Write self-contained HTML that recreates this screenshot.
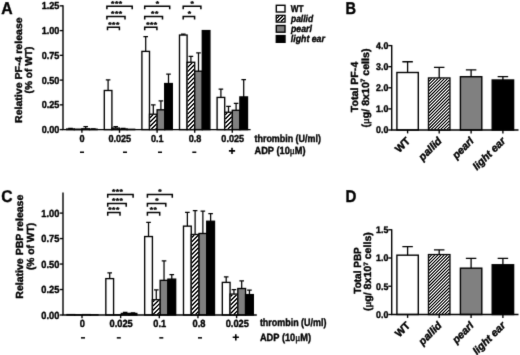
<!DOCTYPE html>
<html><head><meta charset="utf-8"><title>Figure</title>
<style>
html,body{margin:0;padding:0;background:#fff;}
body{width:520px;height:355px;overflow:hidden;}
svg{display:block;font-family:"Liberation Sans",sans-serif;fill:#000;text-rendering:geometricPrecision;}
svg text{stroke:#000;stroke-width:0.4px;stroke-linejoin:round;}
</style></head><body>
<svg width="520" height="355" viewBox="0 0 520 355">
<defs>
<pattern id="hatch" width="3" height="3" patternUnits="userSpaceOnUse" patternTransform="rotate(-45)">
<rect width="3" height="3" fill="#fff"/><rect width="3" height="1.4" fill="#000"/>
</pattern>
<pattern id="hatch2" width="1.68" height="1.68" patternUnits="userSpaceOnUse" patternTransform="rotate(-45)">
<rect width="1.68" height="1.68" fill="#fff"/><rect width="1.68" height="0.95" fill="#000"/>
</pattern>
<filter id="soft2" x="0" y="0" width="520" height="355" filterUnits="userSpaceOnUse" color-interpolation-filters="sRGB"><feConvolveMatrix order="3" kernelMatrix="0.0016 0.0371 0.0016 0.0371 0.8450 0.0371 0.0016 0.0371 0.0016" edgeMode="duplicate" preserveAlpha="false"/></filter>
<filter id="soft" x="0" y="0" width="520" height="355" filterUnits="userSpaceOnUse" color-interpolation-filters="sRGB"><feConvolveMatrix order="3" kernelMatrix="0.0113 0.0838 0.0113 0.0838 0.6193 0.0838 0.0113 0.0838 0.0113" edgeMode="duplicate" preserveAlpha="true"/></filter>
</defs>
<rect width="520" height="355" fill="#fff"/>
<g filter="url(#soft)">
<rect width="520" height="355" fill="#fff"/>

<text transform="translate(1.3 13.5) scale(0.928 1)" font-size="17" font-weight="bold">A</text>
<text transform="translate(345.4 13.5) scale(0.855 1)" font-size="17" font-weight="bold">B</text>
<text transform="translate(1.2 202.3) scale(0.920 1)" font-size="17" font-weight="bold">C</text>
<text transform="translate(345.4 201.9) scale(0.887 1)" font-size="17" font-weight="bold">D</text>
<path d="M70.5 129.01V128.41M68.2 128.41H72.8" stroke="#000" stroke-width="1.25" fill="none"/>
<rect x="66.7" y="129.01" width="7.6" height="0.59" fill="#fff" stroke="#000" stroke-width="1.35"/>
<rect x="74.3" y="129.2" width="7.6" height="0.4" fill="#fff" stroke="#000" stroke-width="1.35"/>
<path d="M85.7 128.81V126.63M83.4 126.63H88" stroke="#000" stroke-width="1.25" fill="none"/>
<rect x="81.9" y="128.81" width="7.6" height="0.79" fill="#808080" stroke="#000" stroke-width="1.35"/>
<path d="M93.3 129.2V128.81M91 128.81H95.6" stroke="#000" stroke-width="1.25" fill="none"/>
<rect x="89.5" y="129.2" width="7.6" height="0.4" fill="#000" stroke="#000" stroke-width="1.35"/>
<path d="M108.1 90.49V79.8M105.8 79.8H110.4" stroke="#000" stroke-width="1.25" fill="none"/>
<rect x="104.3" y="90.49" width="7.6" height="39.11" fill="#fff" stroke="#000" stroke-width="1.35"/>
<path d="M115.7 128.11V126.63M113.4 126.63H118" stroke="#000" stroke-width="1.25" fill="none"/>
<rect x="111.9" y="128.11" width="7.6" height="1.49" fill="#fff" stroke="#000" stroke-width="1.35"/>
<path d="M123.3 129.01V128.41M121 128.41H125.6" stroke="#000" stroke-width="1.25" fill="none"/>
<rect x="119.5" y="129.01" width="7.6" height="0.59" fill="#808080" stroke="#000" stroke-width="1.35"/>
<rect x="127.1" y="129.3" width="7.6" height="0.3" fill="#000" stroke="#000" stroke-width="1.35"/>
<path d="M145.7 51.39V36.54M143.4 36.54H148" stroke="#000" stroke-width="1.25" fill="none"/>
<rect x="141.9" y="51.39" width="7.6" height="78.21" fill="#fff" stroke="#000" stroke-width="1.35"/>
<path d="M153.3 114.25V104.85M151 104.85H155.6" stroke="#000" stroke-width="1.25" fill="none"/>
<rect x="149.5" y="114.25" width="7.6" height="15.34" fill="#fff" stroke="#000" stroke-width="1.35"/>
<path d="M160.9 109.8V100.89M158.6 100.89H163.2" stroke="#000" stroke-width="1.25" fill="none"/>
<rect x="157.1" y="109.8" width="7.6" height="19.8" fill="#808080" stroke="#000" stroke-width="1.35"/>
<path d="M168.5 83.56V74.16M166.2 74.16H170.8" stroke="#000" stroke-width="1.25" fill="none"/>
<rect x="164.7" y="83.56" width="7.6" height="46.03" fill="#000" stroke="#000" stroke-width="1.35"/>
<path d="M183.3 35.05V34.06M181 34.06H185.6" stroke="#000" stroke-width="1.25" fill="none"/>
<rect x="179.5" y="35.05" width="7.6" height="94.55" fill="#fff" stroke="#000" stroke-width="1.35"/>
<path d="M190.9 62.28V56.34M188.6 56.34H193.2" stroke="#000" stroke-width="1.25" fill="none"/>
<rect x="187.1" y="62.28" width="7.6" height="67.32" fill="#fff" stroke="#000" stroke-width="1.35"/>
<path d="M198.5 71.19V52.87M196.2 52.87H200.8" stroke="#000" stroke-width="1.25" fill="none"/>
<rect x="194.7" y="71.19" width="7.6" height="58.41" fill="#808080" stroke="#000" stroke-width="1.35"/>
<rect x="202.3" y="30.6" width="7.6" height="99" fill="#000" stroke="#000" stroke-width="1.35"/>
<path d="M220.9 97.42V89.01M218.6 89.01H223.2" stroke="#000" stroke-width="1.25" fill="none"/>
<rect x="217.1" y="97.42" width="7.6" height="32.18" fill="#fff" stroke="#000" stroke-width="1.35"/>
<path d="M228.5 112.27V106.33M226.2 106.33H230.8" stroke="#000" stroke-width="1.25" fill="none"/>
<rect x="224.7" y="112.27" width="7.6" height="17.33" fill="#fff" stroke="#000" stroke-width="1.35"/>
<path d="M236.1 110.29V103.36M233.8 103.36H238.4" stroke="#000" stroke-width="1.25" fill="none"/>
<rect x="232.3" y="110.29" width="7.6" height="19.31" fill="#808080" stroke="#000" stroke-width="1.35"/>
<path d="M243.7 96.93V79.6M241.4 79.6H246" stroke="#000" stroke-width="1.25" fill="none"/>
<rect x="239.9" y="96.93" width="7.6" height="32.67" fill="#000" stroke="#000" stroke-width="1.35"/>
<path d="M63 5.3V129.6H250.6" stroke="#000" stroke-width="1.4" fill="none"/>
<path d="M59.7 129.6H63" stroke="#000" stroke-width="1.35"/>
<text transform="translate(59.4 133.19) scale(0.900 1)" font-size="10.1" text-anchor="end" font-weight="bold">0.00</text>
<path d="M59.7 104.85H63" stroke="#000" stroke-width="1.35"/>
<text transform="translate(59.4 108.44) scale(0.900 1)" font-size="10.1" text-anchor="end" font-weight="bold">0.25</text>
<path d="M59.7 80.1H63" stroke="#000" stroke-width="1.35"/>
<text transform="translate(59.4 83.69) scale(0.900 1)" font-size="10.1" text-anchor="end" font-weight="bold">0.50</text>
<path d="M59.7 55.35H63" stroke="#000" stroke-width="1.35"/>
<text transform="translate(59.4 58.94) scale(0.900 1)" font-size="10.1" text-anchor="end" font-weight="bold">0.75</text>
<path d="M59.7 30.6H63" stroke="#000" stroke-width="1.35"/>
<text transform="translate(59.4 34.19) scale(0.900 1)" font-size="10.1" text-anchor="end" font-weight="bold">1.00</text>
<path d="M59.7 5.85H63" stroke="#000" stroke-width="1.35"/>
<text transform="translate(59.4 9.44) scale(0.900 1)" font-size="10.1" text-anchor="end" font-weight="bold">1.25</text>
<path d="M81.9 129.6V132.8" stroke="#000" stroke-width="1.35"/>
<text transform="translate(82.1 141.8) scale(0.900 1)" font-size="10.1" text-anchor="middle" font-weight="bold">0</text>
<rect x="80" y="151.5" width="4" height="1.5" fill="#000"/>
<path d="M119.5 129.6V132.8" stroke="#000" stroke-width="1.35"/>
<text transform="translate(119.8 141.8) scale(0.900 1)" font-size="10.1" text-anchor="middle" font-weight="bold">0.025</text>
<rect x="123" y="151.5" width="4" height="1.5" fill="#000"/>
<path d="M157.1 129.6V132.8" stroke="#000" stroke-width="1.35"/>
<text transform="translate(157.2 141.8) scale(0.900 1)" font-size="10.1" text-anchor="middle" font-weight="bold">0.1</text>
<rect x="158" y="151.5" width="4" height="1.5" fill="#000"/>
<path d="M194.7 129.6V132.8" stroke="#000" stroke-width="1.35"/>
<text transform="translate(195 141.8) scale(0.900 1)" font-size="10.1" text-anchor="middle" font-weight="bold">0.8</text>
<rect x="192.3" y="151.5" width="4" height="1.5" fill="#000"/>
<path d="M232.3 129.6V132.8" stroke="#000" stroke-width="1.35"/>
<text transform="translate(232.7 141.8) scale(0.900 1)" font-size="10.1" text-anchor="middle" font-weight="bold">0.025</text>
<path d="M228.9 150.9H235.1M232 147.8V154" stroke="#000" stroke-width="1.6" fill="none"/>
<text transform="translate(254.5 141.6) scale(0.858 1)" font-size="10.4" font-weight="bold">thrombin (U/ml)</text>
<text transform="translate(254.5 154.2) scale(0.890 1)" font-size="10.4" font-weight="bold">ADP (10<tspan font-family="Liberation Serif" font-weight="normal" font-size="10.5">μ</tspan>M)</text>
<text transform="translate(21.6 123) rotate(-90) scale(1.056 1)" font-size="10" font-weight="bold">Relative PF-4 release</text>
<text transform="translate(31.9 93.4) rotate(-90) scale(1.017 1)" font-size="10" font-weight="bold">(% of WT)</text>
<path d="M106.9 9.3V6.3H132.2V9.3" stroke="#000" stroke-width="1.5" fill="none"/>
<text transform="translate(116.8 6) scale(1.000 0.8)" font-size="8.6" text-anchor="middle" font-weight="bold"><tspan letter-spacing="0.45">***</tspan></text>
<path d="M106.9 19.6V16.6H125V19.6" stroke="#000" stroke-width="1.5" fill="none"/>
<text transform="translate(116.8 16.3) scale(1.000 0.8)" font-size="8.6" text-anchor="middle" font-weight="bold"><tspan letter-spacing="0.45">***</tspan></text>
<path d="M107.5 30.2V27.2H119.4V30.2" stroke="#000" stroke-width="1.5" fill="none"/>
<text transform="translate(114 26.9) scale(1.000 0.8)" font-size="8.6" text-anchor="middle" font-weight="bold"><tspan letter-spacing="0.45">***</tspan></text>
<path d="M144.7 9.3V6.3H169.7V9.3" stroke="#000" stroke-width="1.5" fill="none"/>
<text transform="translate(157.7 6) scale(1.000 0.8)" font-size="8.6" text-anchor="middle" font-weight="bold"><tspan letter-spacing="0.45">*</tspan></text>
<path d="M144.7 19.6V16.6H162.5V19.6" stroke="#000" stroke-width="1.5" fill="none"/>
<text transform="translate(154.9 16.3) scale(1.000 0.8)" font-size="8.6" text-anchor="middle" font-weight="bold"><tspan letter-spacing="0.45">**</tspan></text>
<path d="M144.7 30.2V27.2H156.9V30.2" stroke="#000" stroke-width="1.5" fill="none"/>
<text transform="translate(151.9 26.9) scale(1.000 0.8)" font-size="8.6" text-anchor="middle" font-weight="bold"><tspan letter-spacing="0.45">***</tspan></text>
<path d="M183.2 9.3V6.3H200.9V9.3" stroke="#000" stroke-width="1.5" fill="none"/>
<text transform="translate(192.3 6) scale(1.000 0.8)" font-size="8.6" text-anchor="middle" font-weight="bold"><tspan letter-spacing="0.45">*</tspan></text>
<path d="M183.2 19.6V16.6H194.6V19.6" stroke="#000" stroke-width="1.5" fill="none"/>
<text transform="translate(189.6 16.3) scale(1.000 0.8)" font-size="8.6" text-anchor="middle" font-weight="bold"><tspan letter-spacing="0.45">*</tspan></text>
<rect x="276.3" y="5.3" width="8.7" height="6.7" fill="#fff" stroke="#000" stroke-width="1.4"/>
<text transform="translate(290.8 12) scale(0.831 1)" font-size="9.9" font-weight="bold">WT</text>
<rect x="276.3" y="15.4" width="8.7" height="6.7" fill="#fff" stroke="#000" stroke-width="1.4"/>
<text transform="translate(290.99 22.1) scale(0.857 1)" font-size="9.9" font-weight="bold" font-style="italic">pallid</text>
<rect x="276.3" y="25.5" width="8.7" height="6.7" fill="#808080" stroke="#000" stroke-width="1.4"/>
<text transform="translate(291 32.2) scale(0.885 1)" font-size="9.9" font-weight="bold" font-style="italic">pearl</text>
<rect x="276.3" y="35.6" width="8.7" height="6.7" fill="#000" stroke="#000" stroke-width="1.4"/>
<text transform="translate(290.8 42.3) scale(0.888 1)" font-size="9.9" font-weight="bold" font-style="italic">light ear</text>
<rect x="67" y="314.59" width="7.75" height="0.41" fill="#fff" stroke="#000" stroke-width="1.35"/>
<rect x="74.75" y="314.8" width="7.75" height="0.2" fill="#fff" stroke="#000" stroke-width="1.35"/>
<rect x="82.5" y="314.59" width="7.75" height="0.41" fill="#808080" stroke="#000" stroke-width="1.35"/>
<rect x="90.25" y="314.8" width="7.75" height="0.2" fill="#000" stroke="#000" stroke-width="1.35"/>
<path d="M109.7 278.62V272.81M107.41 272.81H112" stroke="#000" stroke-width="1.25" fill="none"/>
<rect x="105.83" y="278.62" width="7.75" height="36.38" fill="#fff" stroke="#000" stroke-width="1.35"/>
<rect x="113.58" y="314.8" width="7.75" height="0.2" fill="#fff" stroke="#000" stroke-width="1.35"/>
<path d="M125.2 313.47V312.45M122.91 312.45H127.5" stroke="#000" stroke-width="1.25" fill="none"/>
<rect x="121.33" y="313.47" width="7.75" height="1.53" fill="#808080" stroke="#000" stroke-width="1.35"/>
<path d="M132.95 313.47V312.76M130.65 312.76H135.25" stroke="#000" stroke-width="1.25" fill="none"/>
<rect x="129.08" y="313.47" width="7.75" height="1.53" fill="#000" stroke="#000" stroke-width="1.35"/>
<path d="M148.53 236.54V222.27M146.23 222.27H150.84" stroke="#000" stroke-width="1.25" fill="none"/>
<rect x="144.66" y="236.54" width="7.75" height="78.46" fill="#fff" stroke="#000" stroke-width="1.35"/>
<path d="M156.28 299.71V289.93M153.98 289.93H158.59" stroke="#000" stroke-width="1.25" fill="none"/>
<rect x="152.41" y="299.71" width="7.75" height="15.29" fill="#fff" stroke="#000" stroke-width="1.35"/>
<path d="M164.03 280.35V260.99M161.73 260.99H166.34" stroke="#000" stroke-width="1.25" fill="none"/>
<rect x="160.16" y="280.35" width="7.75" height="34.65" fill="#808080" stroke="#000" stroke-width="1.35"/>
<path d="M171.78 279.13V274.55M169.48 274.55H174.09" stroke="#000" stroke-width="1.25" fill="none"/>
<rect x="167.91" y="279.13" width="7.75" height="35.87" fill="#000" stroke="#000" stroke-width="1.35"/>
<path d="M187.37 226.14V212.39M185.06 212.39H189.67" stroke="#000" stroke-width="1.25" fill="none"/>
<rect x="183.49" y="226.14" width="7.75" height="88.86" fill="#fff" stroke="#000" stroke-width="1.35"/>
<path d="M195.12 234.5V210.55M192.81 210.55H197.42" stroke="#000" stroke-width="1.25" fill="none"/>
<rect x="191.24" y="234.5" width="7.75" height="80.5" fill="#fff" stroke="#000" stroke-width="1.35"/>
<path d="M202.87 233.48V211.06M200.56 211.06H205.17" stroke="#000" stroke-width="1.25" fill="none"/>
<rect x="198.99" y="233.48" width="7.75" height="81.52" fill="#808080" stroke="#000" stroke-width="1.35"/>
<path d="M210.62 221.25V213.61M208.31 213.61H212.92" stroke="#000" stroke-width="1.25" fill="none"/>
<rect x="206.74" y="221.25" width="7.75" height="93.75" fill="#000" stroke="#000" stroke-width="1.35"/>
<path d="M226.19 282.39V276.79M223.89 276.79H228.5" stroke="#000" stroke-width="1.25" fill="none"/>
<rect x="222.32" y="282.39" width="7.75" height="32.61" fill="#fff" stroke="#000" stroke-width="1.35"/>
<path d="M233.94 294.11V289.52M231.64 289.52H236.25" stroke="#000" stroke-width="1.25" fill="none"/>
<rect x="230.07" y="294.11" width="7.75" height="20.89" fill="#fff" stroke="#000" stroke-width="1.35"/>
<path d="M241.69 288.51V280.86M239.39 280.86H244" stroke="#000" stroke-width="1.25" fill="none"/>
<rect x="237.82" y="288.51" width="7.75" height="26.49" fill="#808080" stroke="#000" stroke-width="1.35"/>
<path d="M249.44 294.62V290.03M247.14 290.03H251.75" stroke="#000" stroke-width="1.25" fill="none"/>
<rect x="245.57" y="294.62" width="7.75" height="20.38" fill="#000" stroke="#000" stroke-width="1.35"/>
<path d="M63 192.5V315H256.8" stroke="#000" stroke-width="1.4" fill="none"/>
<path d="M59.7 315H63" stroke="#000" stroke-width="1.35"/>
<text transform="translate(59.4 318.66) scale(0.900 1)" font-size="10.3" text-anchor="end" font-weight="bold">0.00</text>
<path d="M59.7 289.52H63" stroke="#000" stroke-width="1.35"/>
<text transform="translate(59.4 293.18) scale(0.900 1)" font-size="10.3" text-anchor="end" font-weight="bold">0.25</text>
<path d="M59.7 264.05H63" stroke="#000" stroke-width="1.35"/>
<text transform="translate(59.4 267.71) scale(0.900 1)" font-size="10.3" text-anchor="end" font-weight="bold">0.50</text>
<path d="M59.7 238.57H63" stroke="#000" stroke-width="1.35"/>
<text transform="translate(59.4 242.23) scale(0.900 1)" font-size="10.3" text-anchor="end" font-weight="bold">0.75</text>
<path d="M59.7 213.1H63" stroke="#000" stroke-width="1.35"/>
<text transform="translate(59.4 216.76) scale(0.900 1)" font-size="10.3" text-anchor="end" font-weight="bold">1.00</text>
<path d="M82 315V318.2" stroke="#000" stroke-width="1.35"/>
<text transform="translate(82.2 326.8) scale(0.900 1)" font-size="10.3" text-anchor="middle" font-weight="bold">0</text>
<rect x="81" y="337.1" width="4" height="1.5" fill="#000"/>
<path d="M120.65 315V318.2" stroke="#000" stroke-width="1.35"/>
<text transform="translate(121.1 326.8) scale(0.900 1)" font-size="10.3" text-anchor="middle" font-weight="bold">0.025</text>
<rect x="116.8" y="337.1" width="4" height="1.5" fill="#000"/>
<path d="M159.3 315V318.2" stroke="#000" stroke-width="1.35"/>
<text transform="translate(159.8 326.8) scale(0.900 1)" font-size="10.3" text-anchor="middle" font-weight="bold">0.1</text>
<rect x="159.3" y="337.1" width="4" height="1.5" fill="#000"/>
<path d="M197.95 315V318.2" stroke="#000" stroke-width="1.35"/>
<text transform="translate(199 326.8) scale(0.900 1)" font-size="10.3" text-anchor="middle" font-weight="bold">0.8</text>
<rect x="198" y="337.1" width="4" height="1.5" fill="#000"/>
<path d="M236.6 315V318.2" stroke="#000" stroke-width="1.35"/>
<text transform="translate(237.3 326.8) scale(0.900 1)" font-size="10.3" text-anchor="middle" font-weight="bold">0.025</text>
<path d="M232.7 337.3H238.9M235.8 334.2V340.4" stroke="#000" stroke-width="1.6" fill="none"/>
<text transform="translate(259.9 326.1) scale(0.843 1)" font-size="10.6" font-weight="bold">thrombin (U/ml)</text>
<text transform="translate(259.9 341.2) scale(0.875 1)" font-size="10.6" font-weight="bold">ADP (10<tspan font-family="Liberation Serif" font-weight="normal" font-size="10.5">μ</tspan>M)</text>
<text transform="translate(22.7 298.7) rotate(-90) scale(1.023 1)" font-size="10.3" font-weight="bold">Relative PBP release</text>
<text transform="translate(33.9 270.1) rotate(-90) scale(0.998 1)" font-size="10.3" font-weight="bold">(% of WT)</text>
<path d="M107.7 197.8V194.5H133.1V197.8" stroke="#000" stroke-width="1.5" fill="none"/>
<text transform="translate(117.7 194.4) scale(1.000 0.8)" font-size="8.6" text-anchor="middle" font-weight="bold"><tspan letter-spacing="0.45">***</tspan></text>
<path d="M107.7 206.8V203.5H126.2V206.8" stroke="#000" stroke-width="1.5" fill="none"/>
<text transform="translate(117.7 203.4) scale(1.000 0.8)" font-size="8.6" text-anchor="middle" font-weight="bold"><tspan letter-spacing="0.45">***</tspan></text>
<path d="M107.7 215.7V212.4H120V215.7" stroke="#000" stroke-width="1.5" fill="none"/>
<text transform="translate(114 212.3) scale(1.000 0.8)" font-size="8.6" text-anchor="middle" font-weight="bold"><tspan letter-spacing="0.45">***</tspan></text>
<path d="M147.4 197.8V194.5H172.3V197.8" stroke="#000" stroke-width="1.5" fill="none"/>
<text transform="translate(160.2 194.4) scale(1.000 0.8)" font-size="8.6" text-anchor="middle" font-weight="bold"><tspan letter-spacing="0.45">*</tspan></text>
<path d="M147.4 206.8V203.5H165.8V206.8" stroke="#000" stroke-width="1.5" fill="none"/>
<text transform="translate(157.1 203.4) scale(1.000 0.8)" font-size="8.6" text-anchor="middle" font-weight="bold"><tspan letter-spacing="0.45">*</tspan></text>
<path d="M147.4 215.7V212.4H159.7V215.7" stroke="#000" stroke-width="1.5" fill="none"/>
<text transform="translate(153.6 212.3) scale(1.000 0.8)" font-size="8.6" text-anchor="middle" font-weight="bold"><tspan letter-spacing="0.45">**</tspan></text>
<path d="M407.6 72.5V61.74M402.35 61.74H412.85" stroke="#000" stroke-width="1.3" fill="none"/>
<rect x="396.9" y="72.5" width="21.4" height="57.5" fill="#fff" stroke="#000" stroke-width="1.4"/>
<path d="M439.2 77.99V67.33M433.95 67.33H444.45" stroke="#000" stroke-width="1.3" fill="none"/>
<rect x="428.5" y="77.99" width="21.4" height="52.01" fill="#fff" stroke="#000" stroke-width="1.4"/>
<path d="M471.1 76.72V69.86M465.85 69.86H476.35" stroke="#000" stroke-width="1.3" fill="none"/>
<rect x="460.4" y="76.72" width="21.4" height="53.28" fill="#808080" stroke="#000" stroke-width="1.4"/>
<path d="M502.9 79.99V76.62M497.65 76.62H508.15" stroke="#000" stroke-width="1.3" fill="none"/>
<rect x="492.2" y="79.99" width="21.4" height="50.01" fill="#000" stroke="#000" stroke-width="1.4"/>
<path d="M391.7 45V130H518.5" stroke="#000" stroke-width="1.4" fill="none"/>
<path d="M388.3 130H391.7" stroke="#000" stroke-width="1.35"/>
<text transform="translate(388.3 133.41) scale(0.920 1)" font-size="9.6" text-anchor="end" font-weight="bold">0.0</text>
<path d="M388.3 108.9H391.7" stroke="#000" stroke-width="1.35"/>
<text transform="translate(388.3 112.31) scale(0.920 1)" font-size="9.6" text-anchor="end" font-weight="bold">1.0</text>
<path d="M388.3 87.8H391.7" stroke="#000" stroke-width="1.35"/>
<text transform="translate(388.3 91.21) scale(0.920 1)" font-size="9.6" text-anchor="end" font-weight="bold">2.0</text>
<path d="M388.3 66.7H391.7" stroke="#000" stroke-width="1.35"/>
<text transform="translate(388.3 70.11) scale(0.920 1)" font-size="9.6" text-anchor="end" font-weight="bold">3.0</text>
<path d="M388.3 45.6H391.7" stroke="#000" stroke-width="1.35"/>
<text transform="translate(388.3 49.01) scale(0.920 1)" font-size="9.6" text-anchor="end" font-weight="bold">4.0</text>
<path d="M407.6 130V133.4" stroke="#000" stroke-width="1.35"/>
<text transform="translate(410.8 141.6) rotate(-45)" font-size="10.6" text-anchor="end" font-weight="bold">WT</text>
<path d="M439.2 130V133.4" stroke="#000" stroke-width="1.35"/>
<text transform="translate(442.4 141.6) rotate(-45)" font-size="10.6" text-anchor="end" font-weight="bold" font-style="italic">pallid</text>
<path d="M471.1 130V133.4" stroke="#000" stroke-width="1.35"/>
<text transform="translate(474.3 141.6) rotate(-45)" font-size="10.6" text-anchor="end" font-weight="bold" font-style="italic">pearl</text>
<path d="M502.9 130V133.4" stroke="#000" stroke-width="1.35"/>
<text transform="translate(506.1 141.6) rotate(-45)" font-size="10.6" text-anchor="end" font-weight="bold" font-style="italic">light ear</text>
<text transform="translate(358 112.2) rotate(-90) scale(1.030 1)" font-size="10.3" font-weight="bold">Total PF-4</text>
<text transform="translate(368.7 127.5) rotate(-90) scale(1.030 1)" font-size="10.3" font-weight="bold">(<tspan font-family="Liberation Serif" font-weight="normal" font-size="10.5">μ</tspan>g/ 8x10<tspan dy="-3.4" font-size="6.2">7</tspan><tspan dy="3.4"> cells)</tspan></text>
<path d="M407.6 255.18V246.7M402.35 246.7H412.85" stroke="#000" stroke-width="1.3" fill="none"/>
<rect x="396.9" y="255.18" width="21.4" height="59.32" fill="#fff" stroke="#000" stroke-width="1.4"/>
<path d="M439.2 254.61V249.81M433.95 249.81H444.45" stroke="#000" stroke-width="1.3" fill="none"/>
<rect x="428.5" y="254.61" width="21.4" height="59.89" fill="#fff" stroke="#000" stroke-width="1.4"/>
<path d="M471.1 268.17V258.28M465.85 258.28H476.35" stroke="#000" stroke-width="1.3" fill="none"/>
<rect x="460.4" y="268.17" width="21.4" height="46.33" fill="#808080" stroke="#000" stroke-width="1.4"/>
<path d="M502.9 264.78V258.28M497.65 258.28H508.15" stroke="#000" stroke-width="1.3" fill="none"/>
<rect x="492.2" y="264.78" width="21.4" height="49.72" fill="#000" stroke="#000" stroke-width="1.4"/>
<path d="M391.7 229.2V314.5H518.5" stroke="#000" stroke-width="1.4" fill="none"/>
<path d="M388.3 314.5H391.7" stroke="#000" stroke-width="1.35"/>
<text transform="translate(388.3 317.91) scale(0.920 1)" font-size="9.6" text-anchor="end" font-weight="bold">0.0</text>
<path d="M388.3 286.25H391.7" stroke="#000" stroke-width="1.35"/>
<text transform="translate(388.3 289.66) scale(0.920 1)" font-size="9.6" text-anchor="end" font-weight="bold">0.5</text>
<path d="M388.3 258H391.7" stroke="#000" stroke-width="1.35"/>
<text transform="translate(388.3 261.41) scale(0.920 1)" font-size="9.6" text-anchor="end" font-weight="bold">1.0</text>
<path d="M388.3 229.75H391.7" stroke="#000" stroke-width="1.35"/>
<text transform="translate(388.3 233.16) scale(0.920 1)" font-size="9.6" text-anchor="end" font-weight="bold">1.5</text>
<path d="M407.6 314.5V317.9" stroke="#000" stroke-width="1.35"/>
<text transform="translate(410.8 326.1) rotate(-45)" font-size="10.6" text-anchor="end" font-weight="bold">WT</text>
<path d="M439.2 314.5V317.9" stroke="#000" stroke-width="1.35"/>
<text transform="translate(442.4 326.1) rotate(-45)" font-size="10.6" text-anchor="end" font-weight="bold" font-style="italic">pallid</text>
<path d="M471.1 314.5V317.9" stroke="#000" stroke-width="1.35"/>
<text transform="translate(474.3 326.1) rotate(-45)" font-size="10.6" text-anchor="end" font-weight="bold" font-style="italic">pearl</text>
<path d="M502.9 314.5V317.9" stroke="#000" stroke-width="1.35"/>
<text transform="translate(506.1 326.1) rotate(-45)" font-size="10.6" text-anchor="end" font-weight="bold" font-style="italic">light ear</text>
<text transform="translate(360.5 293.7) rotate(-90) scale(0.971 1)" font-size="10.3" font-weight="bold">Total PBP</text>
<text transform="translate(371.4 311.1) rotate(-90) scale(1.030 1)" font-size="10.3" font-weight="bold">(<tspan font-family="Liberation Serif" font-weight="normal" font-size="10.5">μ</tspan>g/ 8x10<tspan dy="-3.4" font-size="6.2">7</tspan><tspan dy="3.4"> cells)</tspan></text>
</g>
<g filter="url(#soft2)">
<path d="M113.18 129.07L113.61 128.64M117.43 129.07L117.86 128.64" stroke="#000" stroke-width="1.4" fill="none"/>
<path d="M150.03 117.72L152.97 114.78M150.03 121.97L156.58 115.42M150.03 126.22L156.58 119.67M151.43 129.07L156.58 123.92M155.68 129.07L156.58 128.17" stroke="#000" stroke-width="1.4" fill="none"/>
<path d="M187.63 63.12L187.95 62.80M187.63 67.37L192.20 62.80M187.63 71.62L194.18 65.07M187.63 75.87L194.18 69.32M187.63 80.12L194.18 73.57M187.63 84.37L194.18 77.82M187.63 88.62L194.18 82.07M187.63 92.87L194.18 86.32M187.63 97.12L194.18 90.57M187.63 101.37L194.18 94.82M187.63 105.62L194.18 99.07M187.63 109.87L194.18 103.32M187.63 114.12L194.18 107.57M187.63 118.37L194.18 111.82M187.63 122.62L194.18 116.07M187.63 126.87L194.18 120.32M189.68 129.07L194.18 124.57M193.93 129.07L194.18 128.82" stroke="#000" stroke-width="1.4" fill="none"/>
<path d="M225.23 114.77L227.20 112.80M225.23 119.02L231.45 112.80M225.23 123.27L231.78 116.72M225.23 127.52L231.78 120.97M227.93 129.07L231.78 125.22" stroke="#000" stroke-width="1.4" fill="none"/>
<path d="M276.85 18.35L279.25 15.95M277.25 21.55L282.85 15.95M280.85 21.55L284.45 17.95" stroke="#000" stroke-width="1.3" fill="none"/>
<path d="M152.94 301.81L154.51 300.24M152.94 306.06L158.76 300.24M152.94 310.31L159.63 303.62M153.02 314.48L159.63 307.87M157.27 314.48L159.63 312.12" stroke="#000" stroke-width="1.4" fill="none"/>
<path d="M191.77 237.48L194.23 235.02M191.77 241.73L198.47 235.03M191.77 245.98L198.47 239.28M191.77 250.23L198.47 243.53M191.77 254.48L198.47 247.78M191.77 258.74L198.47 252.03M191.77 262.99L198.47 256.28M191.77 267.24L198.47 260.53M191.77 271.49L198.47 264.78M191.77 275.74L198.47 269.03M191.77 279.99L198.47 273.28M191.77 284.24L198.47 277.53M191.77 288.49L198.47 281.78M191.77 292.74L198.47 286.03M191.77 296.99L198.47 290.28M191.77 301.24L198.47 294.53M191.77 305.49L198.47 298.78M191.77 309.74L198.47 303.03M191.77 313.99L198.47 307.28M195.52 314.48L198.47 311.53" stroke="#000" stroke-width="1.4" fill="none"/>
<path d="M230.59 296.40L232.36 294.64M230.59 300.65L236.61 294.64M230.59 304.90L237.29 298.21M230.59 309.15L237.29 302.46M230.59 313.40L237.29 306.71M233.77 314.48L237.29 310.96" stroke="#000" stroke-width="1.4" fill="none"/>
<path d="M429.05 81.25L431.76 78.54M429.05 84.40L434.91 78.54M429.05 87.55L438.06 78.54M429.05 90.70L441.21 78.54M429.05 93.85L444.36 78.54M429.05 97.00L447.51 78.54M429.05 100.15L449.35 79.85M429.05 103.30L449.35 83.00M429.05 106.45L449.35 86.15M429.05 109.60L449.35 89.30M429.05 112.75L449.35 92.45M429.05 115.90L449.35 95.60M429.05 119.05L449.35 98.75M429.05 122.20L449.35 101.90M429.05 125.35L449.35 105.05M429.05 128.50L449.35 108.20M431.25 129.45L449.35 111.35M434.40 129.45L449.35 114.50M437.55 129.45L449.35 117.65M440.70 129.45L449.35 120.80M443.85 129.45L449.35 123.95M447.00 129.45L449.35 127.10" stroke="#000" stroke-width="1.12" fill="none"/>
<path d="M429.05 257.65L431.54 255.16M429.05 260.80L434.69 255.16M429.05 263.95L437.84 255.16M429.05 267.10L440.99 255.16M429.05 270.25L444.14 255.16M429.05 273.40L447.29 255.16M429.05 276.55L449.35 256.25M429.05 279.70L449.35 259.40M429.05 282.85L449.35 262.55M429.05 286.00L449.35 265.70M429.05 289.15L449.35 268.85M429.05 292.30L449.35 272.00M429.05 295.45L449.35 275.15M429.05 298.60L449.35 278.30M429.05 301.75L449.35 281.45M429.05 304.90L449.35 284.60M429.05 308.05L449.35 287.75M429.05 311.20L449.35 290.90M429.45 313.95L449.35 294.05M432.60 313.95L449.35 297.20M435.75 313.95L449.35 300.35M438.90 313.95L449.35 303.50M442.05 313.95L449.35 306.65M445.20 313.95L449.35 309.80M448.35 313.95L449.35 312.95" stroke="#000" stroke-width="1.12" fill="none"/>
</g></svg></body></html>
